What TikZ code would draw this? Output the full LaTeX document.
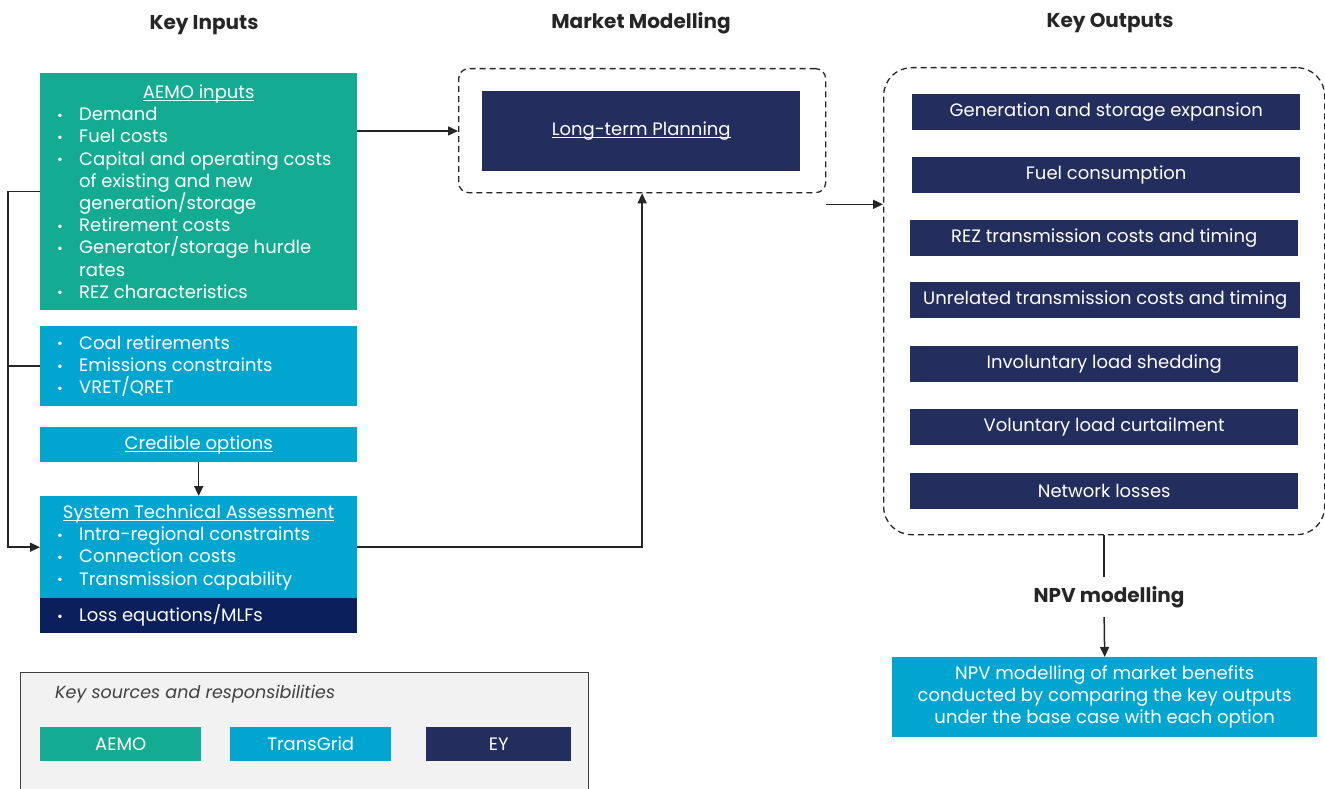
\documentclass[tikz,border=0pt]{standalone}
\usepackage{fontspec}
\setmainfont{Poppins}
\usetikzlibrary{arrows.meta}
\definecolor{aemo}{HTML}{13AC92}
\definecolor{tgrid}{HTML}{00A6CF}
\definecolor{ey}{HTML}{232E5F}
\definecolor{lossc}{HTML}{0A1F5C}
\definecolor{hdr}{HTML}{262626}
\definecolor{legfill}{HTML}{F2F2F2}
\definecolor{legline}{HTML}{404040}
\definecolor{conn}{HTML}{262626}
\newcommand\bodyfont{\fontsize{18}{22.2}\selectfont}
\newcommand\ulx[1]{\setbox0\hbox{#1}\rlap{\rule[-2.5pt]{\wd0}{0.8pt}}\box0}
\newcommand\itm[1]{\hangindent=22pt\hangafter=1\noindent\makebox[22pt][l]{\raisebox{0.5pt}{\fontsize{14}{14}\selectfont•}}#1\par}
\begin{document}
\begin{tikzpicture}[x=1pt,y=-1pt,
  box/.style={inner sep=0pt, text=white, font=\bodyfont, align=center},
  hdrtext/.style={text=hdr, font=\fontsize{20}{24}\selectfont\bfseries, inner sep=0pt},
  dbox/.style={draw=conn, line width=1.3pt, dash pattern=on 6pt off 4pt},
  wire/.style={draw=conn, line width=1.5pt},
  arr/.style={wire, -{Triangle[length=10pt,width=9pt]}},
  outbox/.style={box, fill=ey, minimum height=36pt, anchor=north west}
]
\useasboundingbox (0,0) rectangle (1325,789);

% headers
\node[hdrtext] (h1) at (204,25) {Key Inputs};
\node[hdrtext] (h2) at (641,23) {Market Modelling};
\node[hdrtext] (h3) at (1110,23) {Key Outputs};

% key inputs
\node[box, fill=aemo, minimum width=317pt, minimum height=237pt, anchor=north west] (aemo) at (40,73)
{\parbox{283pt}{\bodyfont\makebox[283pt]{\ulx{AEMO inputs}}\par
\itm{Demand}
\itm{Fuel costs}
\itm{Capital and operating costs\\of existing and new\\generation/storage}
\itm{Retirement costs}
\itm{Generator/storage hurdle\\rates}
\itm{REZ characteristics}}};

\node[box, fill=tgrid, minimum width=317pt, minimum height=80pt, anchor=north west] (tg) at (40,326)
{\parbox{283pt}{\bodyfont
\itm{Coal retirements}
\itm{Emissions constraints}
\itm{VRET/QRET}}};

\node[box, fill=tgrid, minimum width=317pt, minimum height=35pt, anchor=north west] (cred) at (40,427)
{\ulx{Credible options}};

\node[box, fill=tgrid, minimum width=317pt, minimum height=102pt, anchor=north west] (sta) at (40,496)
{\parbox{283pt}{\bodyfont\makebox[283pt]{\ulx{System Technical Assessment}}\par
\itm{Intra-regional constraints}
\itm{Connection costs}
\itm{Transmission capability}}};

\node[box, fill=lossc, minimum width=317pt, minimum height=35pt, anchor=north west] (loss) at (40,598)
{\parbox{283pt}{\bodyfont\itm{Loss equations/MLFs}}};

% market modelling
\node[dbox, rounded corners=10pt, minimum width=367pt, minimum height=124pt, anchor=north west] (mm) at (458,68) {};
\node[box, fill=ey, minimum width=318pt, minimum height=80pt, anchor=north west] (ltp) at (482,91) {\ulx{Long-term Planning}};

% key outputs
\node[dbox, rounded corners=28pt, minimum width=441pt, minimum height=467pt, anchor=north west] (ko) at (883,67) {};
\node[outbox, minimum width=388pt] (o1) at (912,94) {Generation and storage expansion};
\node[outbox, minimum width=388pt] (o2) at (912,157) {Fuel consumption};
\node[outbox, minimum width=388pt] (o3) at (910,220) {REZ transmission costs and timing};
\node[outbox, minimum width=390pt] (o4) at (910,282) {Unrelated transmission costs and timing};
\node[outbox, minimum width=388pt] (o5) at (910,346) {Involuntary load shedding};
\node[outbox, minimum width=388pt] (o6) at (910,409) {Voluntary load curtailment};
\node[outbox, minimum width=388pt] (o7) at (910,473) {Network losses};

% NPV
\node[hdrtext, minimum height=40pt] (npvl) at (1109,597) {NPV modelling};
\node[box, fill=tgrid, minimum width=425pt, minimum height=80pt, anchor=north west] (npv) at (892,657)
{NPV modelling of market benefits\\conducted by comparing the key outputs\\under the base case with each option};

% legend
\node[draw=legline, line width=1pt, fill=legfill, minimum width=568pt, minimum height=130pt, anchor=north west] (leg) at (20,672) {};
\node[anchor=west, inner sep=0pt, text=legline, font=\fontsize{17.5}{20}\selectfont\itshape] (legt) at (55,694) {Key sources and responsibilities};
\node[box, fill=aemo, minimum width=161pt, minimum height=34pt, anchor=north west] (l1) at (40,727) {AEMO};
\node[box, fill=tgrid, minimum width=161pt, minimum height=34pt, anchor=north west] (l2) at (230,727) {TransGrid};
\node[box, fill=ey, minimum width=145pt, minimum height=34pt, anchor=north west] (l3) at (426,727) {EY};

% connectors
\draw[arr] ([yshift=-58pt]aemo.north east) coordinate (a1) -- (a1 -| mm.west);
\draw[arr] (aemo.west) -- ++(-32,0) coordinate (bus) |- (sta.west);
\draw[wire] (tg.west) -- (tg.west -| bus);
\draw[arr] (cred.south) -- (sta.north);
\draw[arr] (sta.east) -| (mm.south);
\draw[arr] ([yshift=-11pt]mm.south east) coordinate (b1) -- (b1 -| ko.west);
\draw[wire] (ko.south) -- (ko.south |- npvl.north);
\draw[arr] (ko.south |- npvl.south) -- (npv.north);
\end{tikzpicture}
\end{document}
